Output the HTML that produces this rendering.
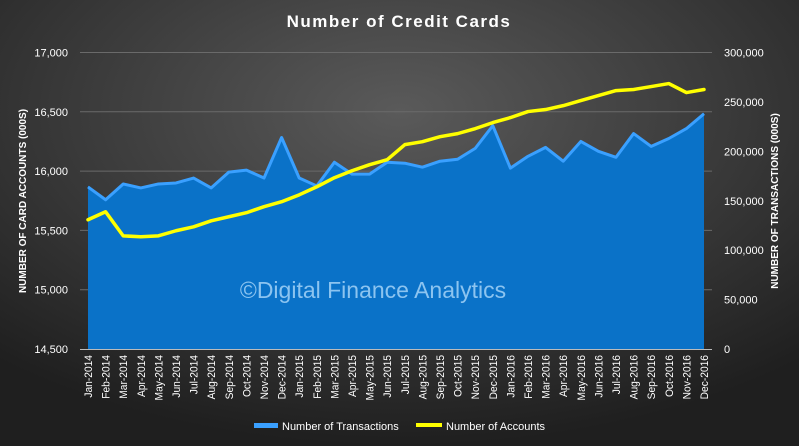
<!DOCTYPE html>
<html><head><meta charset="utf-8"><style>
html,body{margin:0;padding:0;width:799px;height:446px;overflow:hidden;background:#222}
svg{display:block;font-family:"Liberation Sans",sans-serif}
</style></head><body>
<svg id="c" width="799" height="446" xmlns="http://www.w3.org/2000/svg">
<defs>
<radialGradient id="bg" cx="0.5" cy="0.25" r="0.75"><stop offset="0" stop-color="#5a5a5a"/><stop offset="1" stop-color="#1f1f1f"/></radialGradient>
</defs>
<rect width="799" height="446" fill="url(#bg)"/>
<text x="399" y="27" text-anchor="middle" fill="#fff" font-size="17" font-weight="bold" letter-spacing="1.5">Number of Credit Cards</text>
<g id="grid"></g>
<g id="marks"></g>
<text x="373" y="298" text-anchor="middle" fill="#8cc4f0" font-size="23">©Digital Finance Analytics</text>
<g id="axes"></g>
<text transform="translate(26,201) rotate(-90)" text-anchor="middle" fill="#fff" font-size="10" font-weight="bold">NUMBER OF CARD ACCOUNTS (000S)</text>
<text transform="translate(778,201) rotate(-90)" text-anchor="middle" fill="#fff" font-size="10" font-weight="bold">NUMBER OF TRANSACTIONS (000S)</text>
<g>
<g><rect x="254" y="423" width="24" height="5" fill="#3aa0ff"/><text x="282" y="430" fill="#fff" font-size="11">Number of Transactions</text></g>
<g><line x1="416" y1="425" x2="442" y2="425" stroke="#ffff00" stroke-width="4"/><text x="446" y="430" fill="#fff" font-size="11">Number of Accounts</text></g>
</g>
</svg>
<script>
const months = ["Jan-2014","Feb-2014","Mar-2014","Apr-2014","May-2014","Jun-2014","Jul-2014","Aug-2014","Sep-2014","Oct-2014","Nov-2014","Dec-2014","Jan-2015","Feb-2015","Mar-2015","Apr-2015","May-2015","Jun-2015","Jul-2015","Aug-2015","Sep-2015","Oct-2015","Nov-2015","Dec-2015","Jan-2016","Feb-2016","Mar-2016","Apr-2016","May-2016","Jun-2016","Jul-2016","Aug-2016","Sep-2016","Oct-2016","Nov-2016","Dec-2016"];
const transactions = [165000,152000,168000,164000,168000,169000,174000,164000,180000,182000,174000,215000,174000,166000,190000,178000,178000,190000,189000,185000,191000,193000,204000,227000,184000,196000,205000,191000,211000,201000,195000,219000,206000,214000,224000,239000];
const accounts = [15590,15657,15454,15446,15454,15497,15530,15581,15615,15649,15700,15742,15800,15868,15944,16003,16054,16096,16223,16248,16290,16316,16358,16409,16451,16502,16519,16552,16595,16637,16679,16688,16713,16738,16662,16688];
const leftTicks = [14500,15000,15500,16000,16500,17000];
const rightTicks = [0,50000,100000,150000,200000,250000,300000];
const X0=88,X1=704,YT=52.5,YB=349;
const x=i=>X0+i*(X1-X0)/(months.length-1);
const yL=v=>YB-(v-14500)/(17000-14500)*(YB-YT);
const yR=v=>YB-v/300000*(YB-YT);
const NS="http://www.w3.org/2000/svg";
function mk(tag,attrs,parent,txt){const e=document.createElementNS(NS,tag);for(const k in attrs)e.setAttribute(k,attrs[k]);if(txt!==undefined)e.textContent=txt;parent.appendChild(e);return e;}
const grid=document.getElementById('grid'),marks=document.getElementById('marks'),axes=document.getElementById('axes');
const fmt=v=>v.toLocaleString('en-US');
leftTicks.forEach(v=>{
  if(v>14500){const g=mk('line',{x1:80,x2:712,y1:yL(v),y2:yL(v),stroke:'#6a6a6a','stroke-width':1},grid);
  
  }
  const t=mk('text',{x:68,y:yL(v)+4,'text-anchor':'end',fill:'#fff','font-size':11},axes,fmt(v));
  
  
});
rightTicks.forEach(v=>{
  const t=mk('text',{x:724,y:yR(v)+4,'text-anchor':'start',fill:'#fff','font-size':11},axes,fmt(v));
  
  
});
let d=`M${x(0)},${YB}`;transactions.forEach((v,i)=>d+=` L${x(i)},${yR(v)}`);d+=` L${x(months.length-1)},${YB}Z`;
const area=mk('path',{d:d,fill:'#0a72c8'},marks);


let e='';transactions.forEach((v,i)=>e+=(i?' L':'M')+x(i)+','+(yR(v)+1));
const edge=mk('path',{d:e,fill:'none',stroke:'#3aa0ff','stroke-width':3,'stroke-linejoin':'round'},marks);


let l='';accounts.forEach((v,i)=>l+=(i?' L':'M')+x(i)+','+yL(v));
const line=mk('path',{d:l,fill:'none',stroke:'#ffff00','stroke-width':3.5,'stroke-linejoin':'round','stroke-linecap':'round'},marks);


const ax=mk('line',{x1:80,x2:712,y1:YB+0.5,y2:YB+0.5,stroke:'#bbb','stroke-width':1},axes);


months.forEach((m,i)=>{
  const t=mk('text',{transform:`translate(${x(i)+4},355) rotate(-90) scale(0.93,1)`,'text-anchor':'end',fill:'#fff','font-size':11},axes,m);
  
  
});
</script>
</body></html>
